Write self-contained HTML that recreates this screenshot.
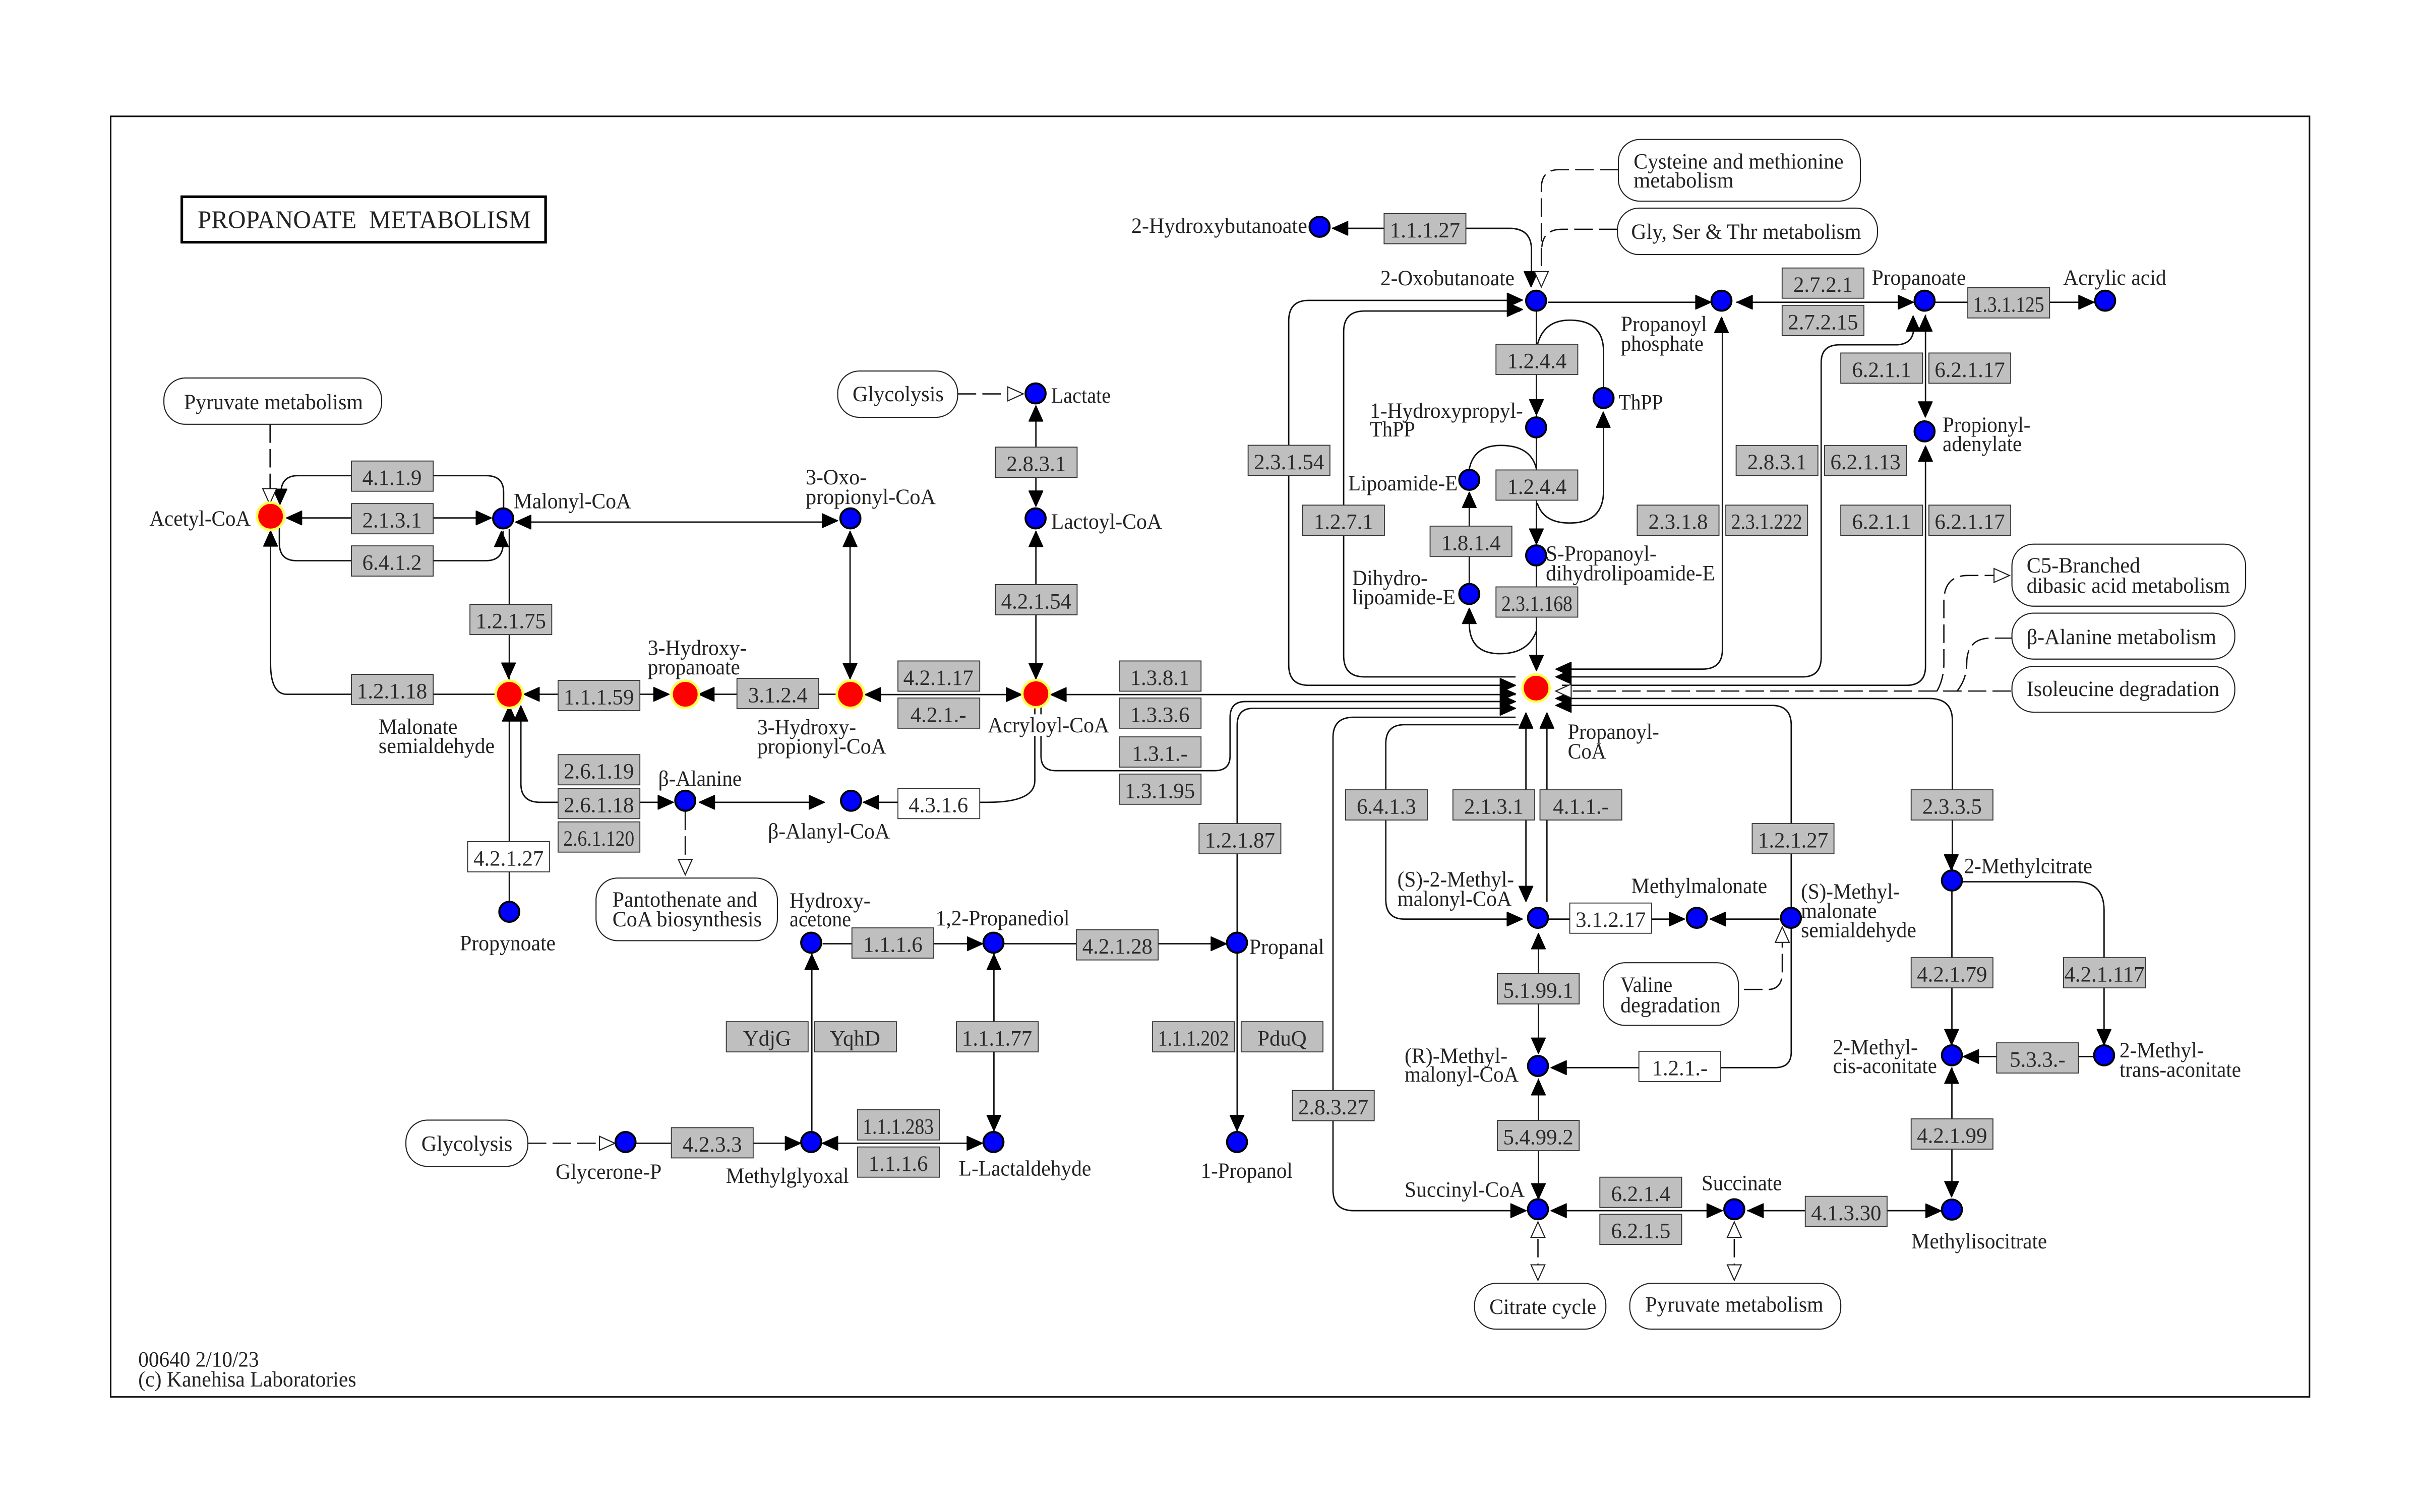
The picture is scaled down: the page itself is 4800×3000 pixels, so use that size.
<!DOCTYPE html>
<html><head><meta charset="utf-8"><title>Propanoate metabolism</title>
<style>
html,body{margin:0;padding:0;background:#fff}
svg{display:block}
text{font-family:"Liberation Serif",serif;font-size:14px;fill:#222}
.m text{text-anchor:middle;fill:#2a2a2a}
.l{fill:none;stroke:#111;stroke-width:.9}
.d{fill:none;stroke:#111;stroke-width:.85;stroke-dasharray:12 4}
.p{fill:#fff;stroke:#222;stroke-width:.7}
.e rect{fill:#bfbfbf;stroke:#333;stroke-width:.6;width:53px;height:19.6px}
.w rect{fill:#fff;stroke:#333;stroke-width:.6;width:53px;height:19.6px}
.b circle{fill:#00f;stroke:#000;stroke-width:1.3}
.r circle{fill:#f00;stroke:#ffff50;stroke-width:1.6}
</style></head><body>
<svg xmlns="http://www.w3.org/2000/svg" width="4800" height="3000" viewBox="0 0 1568 980">
<rect width="1568" height="980" fill="#fff"/>
<rect x="71.7" y="75.4" width="1424.7" height="830" fill="none" stroke="#111" stroke-width="1"/>
<rect x="117.8" y="127.5" width="235.7" height="29.5" fill="#fff" stroke="#000" stroke-width="1.7"/>

<!-- solid connectors -->
<path class="l" d="M182 320Q182 308.3 193 308.3H315Q326.3 308.3 326.3 319V330
M181 342V352Q181 363.4 192 363.4H315Q326 363.4 326 352V344
M186 335.7H316M336 338.4H541
M175.3 344V430Q175.3 450 186 450H322
M330 343V442M339 450H432M452 450H542M560 450.2H662M680 450.2H982
M337.5 458V508Q337.5 520 350 520H435M330 458V584
M453 520H534M559 520H640Q670.5 520 670.5 506V458
M674.5 458V490Q674.5 499.5 684 499.5H787Q797 499.5 797 490V465Q797 454.7 807 454.7H982
M801.6 733V470Q801.6 459.1 812 459.1H982
M550.8 344V440M671.2 263V328M671.2 344V440
M533 611.7H636M650 611.7H794M526 618V733M644 618V733
M412 741H518M532 741H636
M863 148H978Q992.3 148 992.3 162V180
M982 444.2H848Q835 444.2 835 431V208Q835 194.7 848 194.7H985
M982 438.7H884Q870.6 438.7 870.6 425V215Q870.6 201.6 884 201.6H985
M982 464.9H877Q863.7 464.9 863.7 478V771Q863.7 784.7 877 784.7H988
M984 469.7H910Q897.9 469.7 897.9 482V583Q897.9 595.7 910 595.7H986
M995.5 202V434
M996 224Q1000 207.5 1017 207.5Q1039 207.5 1039 228V252
M996 326Q1000 339 1017 339Q1039 339 1039 318V268
M952 304Q955 288.7 972.4 288.7Q992 288.7 995.5 304
M952 319V378
M995.5 409Q990 423.7 972 423.7Q952 423.7 952 404
M1003 195.9H1108M1125 195.9H1239M1254 195.9H1356
M1116 206V421Q1116 433.7 1103 433.7H1010
M1010 438.7H1168Q1180 438.7 1180 426V235Q1180 223.5 1192 223.5H1228Q1240 223.5 1240 212
M1247.6 204V270M1247.6 290V432Q1247.6 444.2 1235 444.2H1012
M1012 452.7H1250Q1265 452.7 1265 467V564
M1012 457.2H1148Q1160.6 457.2 1160.6 470V588
M1160.6 600V682Q1160.6 692 1150 692H1006
M988.7 462V584M1002.3 462V584.5
M1003 595.7H1091M1108 595.7H1153
M996.8 605V682M996.8 699V777
M1005 784.7H1116M1132 784.7H1257
M1264.7 577V677M1264.7 692V775
M1271 571.5H1345Q1363.3 571.5 1363.3 590V677
M1356 684.8H1272"/>

<!-- dashed connectors -->
<path class="d" d="M175 275V318M1048.6 110H1010Q998.7 110 998.7 122V177M1048 148.6H1012Q1000 148.6 999 160
M620.5 255.3H653M342 741H388M444 526V557
M1303 447.9H1018M1255 448Q1259.5 440 1259.5 430V390Q1259.5 373 1275 373H1292
M1268 448Q1274.3 440 1274.3 430Q1274.3 413.6 1290 413.6H1304
M1130 641.3H1146Q1154.8 641 1154.8 630V611
M996.5 803V820M1123.7 803V820"/>

<!-- filled arrowheads -->
<path fill="#000" stroke="#000" stroke-width=".6" stroke-linejoin="round" d="M318.5 335.7l-10-4.5v9zM542.8 337.5l-10-4.5v9zM433.6 450l-10-4.5v9zM662 450.2l-10-4.5v9zM436.4 520l-10-4.5v9zM534.3 520l-10-4.5v9zM636.8 611.7l-10-4.5v9zM794.7 611.7l-10-4.5v9zM518.8 741l-10-4.5v9zM636.6 741l-10-4.5v9zM986.6 194.5l-10-4.5v9zM986.6 200.6l-10-4.5v9zM1108.7 195.9l-10-4.5v9zM1239.9 195.9l-10-4.5v9zM1356.9 195.9l-10-4.5v9zM982 444.2l-10-4.5v9zM982 449.7l-10-4.5v9zM982 454.7l-10-4.5v9zM982 459.1l-10-4.5v9zM986.5 595.7l-10-4.5v9zM1091.6 595.7l-10-4.5v9zM988.9 784.7l-10-4.5v9zM1116 784.7l-10-4.5v9zM1257.8 784.8l-10-4.5v9z
M185.5 335.7l10-4.5v9zM334 338.4l10-4.5v9zM339.4 450l10-4.5v9zM452.7 450l10-4.5v9zM560.5 450.2l10-4.5v9zM680.8 450.2l10-4.5v9zM453 520l10-4.5v9zM559.3 520l10-4.5v9zM532.8 741l10-4.5v9zM863.3 148l10-4.5v9zM1125.4 195.9l10-4.5v9zM1008 433.7l10-4.5v9zM1008 438.7l10-4.5v9zM1008 452.7l10-4.5v9zM1008 457.2l10-4.5v9zM1108 595.7l10-4.5v9zM1004.9 692l10-4.5v9zM1004.9 784.7l10-4.5v9zM1132.5 784.7l10-4.5v9zM1272 684.8l10-4.5v9z
M181.4 327l-4.5-10h9zM329.5 439.7l-4.5-10h9zM550.8 440l-4.5-10h9zM671.2 328.2l-4.5-10h9zM671.2 440l-4.5-10h9zM644 732.9l-4.5-10h9zM801.5 732.9l-4.5-10h9zM992 186l-4.5-10h9zM995.5 269l-4.5-10h9zM995.5 352.8l-4.5-10h9zM995.5 434.7l-4.5-10h9zM1247.5 270.4l-4.5-10h9zM1264.3 564l-4.5-10h9zM1264.5 677.2l-4.5-10h9zM1264.5 775.8l-4.5-10h9zM1363.3 677.2l-4.5-10h9zM988.7 584.4l-4.5-10h9zM996.8 682.8l-4.5-10h9zM996.8 777.2l-4.5-10h9z
M175.3 344l-4.5 10h9zM324.9 344.3l-4.5 10h9zM330 457.4l-4.5 10h9zM337.5 457.4l-4.5 10h9zM550.8 344.3l-4.5 10h9zM671.2 263l-4.5 10h9zM671.2 344.3l-4.5 10h9zM526 618.5l-4.5 10h9zM644 618.5l-4.5 10h9zM952 319l-4.5 10h9zM952 394.2l-4.5 10h9zM1038.8 267l-4.5 10h9zM1115.4 205.6l-4.5 10h9zM1239.6 204.7l-4.5 10h9zM1247.4 204.7l-4.5 10h9zM1247.6 289l-4.5 10h9zM988.7 462l-4.5 10h9zM1002.3 462l-4.5 10h9zM996.8 605l-4.5 10h9zM996.8 699.7l-4.5 10h9zM1264.5 692.2l-4.5 10h9z"/>

<!-- hollow arrowheads -->
<path fill="#fff" stroke="#222" stroke-width=".7" d="M174.7 326.7l-4.5-10h9zM998.7 186l-4.5-10h9zM444 567l-4.5-10h9zM996.5 829.8l-4.5-10h9zM1123.7 829.8l-4.5-10h9z
M663 255.3l-10-4.5v9zM398.4 741l-10-4.5v9zM1302 373l-10-4.5v9z
M1008 447.9l10-4.5v9z
M996.5 792l-4.5 10h9zM1123.7 792l-4.5 10h9zM1154.8 600.8l-4.5 10h9z"/>

<!-- pathway boxes -->
<g class="p">
<rect x="106.2" y="245" width="141.1" height="30" rx="14"/>
<rect x="542.8" y="240.5" width="77.7" height="30" rx="14"/>
<rect x="263" y="726" width="79" height="30" rx="14"/>
<rect x="386.2" y="569.1" width="117.5" height="40.6" rx="14"/>
<rect x="1048.6" y="90.4" width="156.8" height="40" rx="14"/>
<rect x="1048" y="134.9" width="168.5" height="30.1" rx="14"/>
<rect x="1303.6" y="352.7" width="151.4" height="40.2" rx="14"/>
<rect x="1303.6" y="397.4" width="144.4" height="29.8" rx="14"/>
<rect x="1303.6" y="431.9" width="144.4" height="29.7" rx="14"/>
<rect x="1039" y="624" width="87.4" height="40.6" rx="14"/>
<rect x="955.4" y="831.8" width="85.1" height="29.7" rx="14"/>
<rect x="1056" y="831.8" width="136.7" height="29.7" rx="14"/>
</g>

<!-- enzyme boxes -->
<g class="e">
<rect x="227.7" y="298.8"/><rect x="227.7" y="326.4"/><rect x="227.7" y="353.8"/>
<rect x="304.5" y="391.7"/><rect x="227.7" y="437.1"/><rect x="361.6" y="441"/>
<rect x="477.5" y="439.7"/><rect x="361.6" y="489.1"/><rect x="361.6" y="511"/><rect x="361.6" y="532.7"/>
<rect x="581.8" y="428.4"/><rect x="581.8" y="452.4"/>
<rect x="725.2" y="428.4"/><rect x="725.2" y="452.4"/><rect x="725.2" y="477.6"/><rect x="725.2" y="501.7"/>
<rect x="776.9" y="533.8"/><rect x="552" y="601.4"/><rect x="697.4" y="602.6"/>
<rect x="470.6" y="662.2"/><rect x="527.8" y="662.2"/><rect x="619.7" y="662.2"/><rect x="746.8" y="662.2"/><rect x="804.2" y="662.2"/>
<rect x="435" y="730.9"/><rect x="555.6" y="719.3"/><rect x="555.6" y="743.4"/>
<rect x="644.9" y="289.8"/><rect x="644.9" y="378.9"/><rect x="808.7" y="288.6"/>
<rect x="896.8" y="138.4"/><rect x="969.3" y="223.1"/><rect x="969.3" y="304.6"/>
<rect x="844" y="327.4"/><rect x="926.6" y="341"/><rect x="969.3" y="380.4"/>
<rect x="1060.8" y="327.4"/><rect x="1118.2" y="327.4"/><rect x="1124.9" y="288.7"/><rect x="1182.2" y="288.7"/>
<rect x="1192.7" y="228.8"/><rect x="1192.7" y="327.4"/><rect x="1249.8" y="228.8"/><rect x="1249.8" y="327.4"/>
<rect x="1154.7" y="173.7"/><rect x="1154.7" y="197.9"/><rect x="1275" y="186.5"/>
<rect x="871.8" y="511.9"/><rect x="941.4" y="511.9"/><rect x="997.8" y="511.9"/><rect x="1135.3" y="533.8"/>
<rect x="970.2" y="631.1"/><rect x="837.4" y="706.8"/><rect x="970.2" y="726.2"/>
<rect x="1036.6" y="763"/><rect x="1036.6" y="787"/><rect x="1169.7" y="775.4"/>
<rect x="1238.3" y="511.9"/><rect x="1238.3" y="620.7"/><rect x="1337" y="620.7"/><rect x="1293.7" y="675.9"/><rect x="1238.3" y="725.2"/>
</g>
<g class="w">
<rect x="581.8" y="511"/><rect x="303" y="545.5"/><rect x="1017.1" y="585.3"/><rect x="1061.9" y="681.4"/>
</g>

<!-- enzyme labels -->
<g class="m">
<text x="254" y="314.3">4.1.1.9</text><text x="254" y="341.9">2.1.3.1</text><text x="254" y="369.3">6.4.1.2</text>
<text x="331" y="407.2">1.2.1.75</text><text x="254" y="452.6">1.2.1.18</text><text x="388" y="456.5">1.1.1.59</text>
<text x="504" y="455.2">3.1.2.4</text><text x="388" y="504.6">2.6.1.19</text><text x="388" y="526.5">2.6.1.18</text><text x="388" y="548.2" textLength="46" lengthAdjust="spacingAndGlyphs">2.6.1.120</text>
<text x="608" y="443.9">4.2.1.17</text><text x="608" y="467.9">4.2.1.-</text>
<text x="751.5" y="443.9">1.3.8.1</text><text x="751.5" y="467.9">1.3.3.6</text><text x="751.5" y="493.1">1.3.1.-</text><text x="751.5" y="517.2">1.3.1.95</text>
<text x="608" y="526.5">4.3.1.6</text><text x="329.5" y="561">4.2.1.27</text>
<text x="803.4" y="549.3">1.2.1.87</text><text x="578.5" y="616.9">1.1.1.6</text><text x="724" y="618.1">4.2.1.28</text>
<text x="497" y="677.7">YdjG</text><text x="554" y="677.7">YqhD</text><text x="646" y="677.7">1.1.1.77</text><text x="773.3" y="677.7" textLength="46" lengthAdjust="spacingAndGlyphs">1.1.1.202</text><text x="830.7" y="677.7">PduQ</text>
<text x="461.5" y="746.4">4.2.3.3</text><text x="582" y="734.8" textLength="46" lengthAdjust="spacingAndGlyphs">1.1.1.283</text><text x="582" y="758.9">1.1.1.6</text>
<text x="671.4" y="305.3">2.8.3.1</text><text x="671.4" y="394.4">4.2.1.54</text><text x="835.2" y="304.1">2.3.1.54</text>
<text x="923.3" y="153.9">1.1.1.27</text><text x="995.8" y="238.6">1.2.4.4</text><text x="995.8" y="320.1">1.2.4.4</text>
<text x="870.5" y="342.9">1.2.7.1</text><text x="953.1" y="356.5">1.8.1.4</text><text x="995.8" y="395.9" textLength="46" lengthAdjust="spacingAndGlyphs">2.3.1.168</text>
<text x="1087.3" y="342.9">2.3.1.8</text><text x="1144.7" y="342.9" textLength="46" lengthAdjust="spacingAndGlyphs">2.3.1.222</text><text x="1151.4" y="304.2">2.8.3.1</text><text x="1208.7" y="304.2">6.2.1.13</text>
<text x="1219.2" y="244.3">6.2.1.1</text><text x="1219.2" y="342.9">6.2.1.1</text><text x="1276.3" y="244.3">6.2.1.17</text><text x="1276.3" y="342.9">6.2.1.17</text>
<text x="1181.2" y="189.2">2.7.2.1</text><text x="1181.2" y="213.4">2.7.2.15</text><text x="1301.5" y="202" textLength="46" lengthAdjust="spacingAndGlyphs">1.3.1.125</text>
<text x="898.3" y="527.4">6.4.1.3</text><text x="967.9" y="527.4">2.1.3.1</text><text x="1024.3" y="527.4">4.1.1.-</text><text x="1161.8" y="549.3">1.2.1.27</text>
<text x="1043.6" y="600.8">3.1.2.17</text><text x="996.7" y="646.6">5.1.99.1</text><text x="1088.4" y="696.9">1.2.1.-</text>
<text x="863.9" y="722.3">2.8.3.27</text><text x="996.7" y="741.7">5.4.99.2</text>
<text x="1063.1" y="778.5">6.2.1.4</text><text x="1063.1" y="802.5">6.2.1.5</text><text x="1196.2" y="790.9">4.1.3.30</text>
<text x="1264.8" y="527.4">2.3.3.5</text><text x="1264.8" y="636.2">4.2.1.79</text><text x="1363.5" y="636.2">4.2.1.117</text><text x="1320.2" y="691.4">5.3.3.-</text><text x="1264.8" y="740.7">4.2.1.99</text>
</g>

<!-- nodes -->
<g class="b">
<circle cx="326" cy="336" r="6.5"/><circle cx="551" cy="336" r="6.5"/><circle cx="671" cy="255" r="6.5"/><circle cx="671" cy="336" r="6.5"/>
<circle cx="444" cy="519" r="6.5"/><circle cx="551.4" cy="519" r="6.5"/><circle cx="525.6" cy="611" r="6.5"/><circle cx="643.7" cy="611" r="6.5"/><circle cx="801.5" cy="611" r="6.5"/>
<circle cx="405.3" cy="740.2" r="6.5"/><circle cx="525.6" cy="740.2" r="6.5"/><circle cx="643.7" cy="740.2" r="6.5"/><circle cx="801.5" cy="740.2" r="6.5"/><circle cx="330" cy="591" r="6.5"/>
<circle cx="855" cy="147" r="6.5"/><circle cx="995.3" cy="194.9" r="6.5"/><circle cx="1115.4" cy="194.9" r="6.5"/><circle cx="1247" cy="194.9" r="6.5"/><circle cx="1364" cy="194.9" r="6.5"/>
<circle cx="1039" cy="258" r="6.5"/><circle cx="995.3" cy="277" r="6.5"/><circle cx="1247" cy="279.6" r="6.5"/><circle cx="952" cy="311" r="6.5"/><circle cx="995.3" cy="360" r="6.5"/><circle cx="952" cy="385" r="6.5"/>
<circle cx="996.5" cy="594.9" r="6.5"/><circle cx="1099.4" cy="594.9" r="6.5"/><circle cx="1160.4" cy="594.9" r="6.5"/><circle cx="996.5" cy="690.9" r="6.5"/><circle cx="996.5" cy="783.8" r="6.5"/><circle cx="1123.7" cy="783.8" r="6.5"/>
<circle cx="1264.7" cy="570.7" r="6.5"/><circle cx="1264.7" cy="684" r="6.5"/><circle cx="1363.3" cy="684" r="6.5"/><circle cx="1264.7" cy="784" r="6.5"/>
</g>
<g class="r">
<circle cx="175.3" cy="334.6" r="8.8"/><circle cx="330" cy="450" r="8.8"/><circle cx="444" cy="450" r="8.8"/><circle cx="551" cy="450" r="8.8"/><circle cx="671.2" cy="449.6" r="8.8"/><circle cx="995.3" cy="446" r="8.8"/>
</g>

<rect x="638" y="463" width="82" height="14" fill="#fff"/>

<!-- labels -->
<g lengthAdjust="spacingAndGlyphs">
<text x="128" y="148" style="font-size:16.5px" textLength="216" lengthAdjust="spacingAndGlyphs" xml:space="preserve">PROPANOATE  METABOLISM</text>
<text x="119.2" y="265.2" textLength="116" lengthAdjust="spacingAndGlyphs">Pyruvate metabolism</text>
<text x="96.8" y="340.7" textLength="65.6" lengthAdjust="spacingAndGlyphs">Acetyl-CoA</text>
<text x="332.8" y="329.4" textLength="76.2" lengthAdjust="spacingAndGlyphs">Malonyl-CoA</text>
<text x="419.7" y="424.5" textLength="64.2" lengthAdjust="spacingAndGlyphs">3-Hydroxy-</text>
<text x="419.7" y="437" textLength="59.8" lengthAdjust="spacingAndGlyphs">propanoate</text>
<text x="245.3" y="475.6" textLength="51.1" lengthAdjust="spacingAndGlyphs">Malonate</text>
<text x="245.3" y="488" textLength="75.2" lengthAdjust="spacingAndGlyphs">semialdehyde</text>
<text x="490.6" y="475.9" textLength="64.1" lengthAdjust="spacingAndGlyphs">3-Hydroxy-</text>
<text x="490.6" y="488.4" textLength="83.7" lengthAdjust="spacingAndGlyphs">propionyl-CoA</text>
<text x="640" y="474.7" textLength="78.7" lengthAdjust="spacingAndGlyphs">Acryloyl-CoA</text>
<text x="426.5" y="509.2" textLength="54.1" lengthAdjust="spacingAndGlyphs">β-Alanine</text>
<text x="497.5" y="543.4" textLength="79.1" lengthAdjust="spacingAndGlyphs">β-Alanyl-CoA</text>
<text x="522" y="314" textLength="39.6" lengthAdjust="spacingAndGlyphs">3-Oxo-</text>
<text x="522" y="326.6" textLength="84.3" lengthAdjust="spacingAndGlyphs">propionyl-CoA</text>
<text x="681" y="261" textLength="38.7" lengthAdjust="spacingAndGlyphs">Lactate</text>
<text x="681" y="342.6" textLength="72" lengthAdjust="spacingAndGlyphs">Lactoyl-CoA</text>
<text x="552.4" y="260" textLength="59.1" lengthAdjust="spacingAndGlyphs">Glycolysis</text>
<text x="396.8" y="587.7" textLength="93.8" lengthAdjust="spacingAndGlyphs">Pantothenate and</text>
<text x="396.8" y="600.4" textLength="96.8" lengthAdjust="spacingAndGlyphs">CoA biosynthesis</text>
<text x="511.6" y="588.3" textLength="52.4" lengthAdjust="spacingAndGlyphs">Hydroxy-</text>
<text x="511.6" y="600.4" textLength="39.8" lengthAdjust="spacingAndGlyphs">acetone</text>
<text x="606.2" y="599.7" textLength="86.8" lengthAdjust="spacingAndGlyphs">1,2-Propanediol</text>
<text x="809.4" y="618.4" textLength="48.6" lengthAdjust="spacingAndGlyphs">Propanal</text>
<text x="360" y="764" textLength="68.7" lengthAdjust="spacingAndGlyphs">Glycerone-P</text>
<text x="470.3" y="766.7" textLength="79.7" lengthAdjust="spacingAndGlyphs">Methylglyoxal</text>
<text x="621.2" y="762" textLength="85.8" lengthAdjust="spacingAndGlyphs">L-Lactaldehyde</text>
<text x="778" y="763.4" textLength="59.5" lengthAdjust="spacingAndGlyphs">1-Propanol</text>
<text x="298" y="616" textLength="62" lengthAdjust="spacingAndGlyphs">Propynoate</text>
<text x="273" y="746" textLength="59" lengthAdjust="spacingAndGlyphs">Glycolysis</text>
<text x="89.6" y="885.8" textLength="78.2" lengthAdjust="spacingAndGlyphs">00640 2/10/23</text>
<text x="89.6" y="898.6" textLength="141.2" lengthAdjust="spacingAndGlyphs">(c) Kanehisa Laboratories</text>
<text x="733" y="151" textLength="114" lengthAdjust="spacingAndGlyphs">2-Hydroxybutanoate</text>
<text x="1058.5" y="109.2" textLength="136" lengthAdjust="spacingAndGlyphs">Cysteine and methionine</text>
<text x="1058.5" y="121.6" textLength="64.8" lengthAdjust="spacingAndGlyphs">metabolism</text>
<text x="1056.9" y="154.9" textLength="149" lengthAdjust="spacingAndGlyphs">Gly, Ser &amp; Thr metabolism</text>
<text x="894.4" y="184.9" textLength="86.9" lengthAdjust="spacingAndGlyphs">2-Oxobutanoate</text>
<text x="1050.2" y="214.6" textLength="55.8" lengthAdjust="spacingAndGlyphs">Propanoyl</text>
<text x="1050.2" y="227.4" textLength="53.6" lengthAdjust="spacingAndGlyphs">phosphate</text>
<text x="887.6" y="270.8" textLength="99.2" lengthAdjust="spacingAndGlyphs">1-Hydroxypropyl-</text>
<text x="887.6" y="282.9" textLength="29.3" lengthAdjust="spacingAndGlyphs">ThPP</text>
<text x="1048.8" y="265.4" textLength="28.7" lengthAdjust="spacingAndGlyphs">ThPP</text>
<text x="873.5" y="317.9" textLength="71" lengthAdjust="spacingAndGlyphs">Lipoamide-E</text>
<text x="1001.6" y="363.4" textLength="71.7" lengthAdjust="spacingAndGlyphs">S-Propanoyl-</text>
<text x="1001.6" y="376.2" textLength="109.7" lengthAdjust="spacingAndGlyphs">dihydrolipoamide-E</text>
<text x="876.1" y="379.2" textLength="48.9" lengthAdjust="spacingAndGlyphs">Dihydro-</text>
<text x="876.1" y="391.7" textLength="67" lengthAdjust="spacingAndGlyphs">lipoamide-E</text>
<text x="1212.8" y="184.6" textLength="61" lengthAdjust="spacingAndGlyphs">Propanoate</text>
<text x="1336.8" y="184.6" textLength="66.8" lengthAdjust="spacingAndGlyphs">Acrylic acid</text>
<text x="1258.7" y="280" textLength="56.9" lengthAdjust="spacingAndGlyphs">Propionyl-</text>
<text x="1258.7" y="292.4" textLength="51.3" lengthAdjust="spacingAndGlyphs">adenylate</text>
<text x="1313.1" y="371.1" textLength="73.7" lengthAdjust="spacingAndGlyphs">C5-Branched</text>
<text x="1313.1" y="384.2" textLength="131.8" lengthAdjust="spacingAndGlyphs">dibasic acid metabolism</text>
<text x="1313.1" y="417.4" textLength="122.9" lengthAdjust="spacingAndGlyphs">β-Alanine metabolism</text>
<text x="1313.1" y="451.1" textLength="124.9" lengthAdjust="spacingAndGlyphs">Isoleucine degradation</text>
<text x="1015.8" y="478.9" textLength="59.2" lengthAdjust="spacingAndGlyphs">Propanoyl-</text>
<text x="1015.8" y="491.6" textLength="24.9" lengthAdjust="spacingAndGlyphs">CoA</text>
<text x="905.4" y="574.6" textLength="75.6" lengthAdjust="spacingAndGlyphs">(S)-2-Methyl-</text>
<text x="905.4" y="587.2" textLength="74.2" lengthAdjust="spacingAndGlyphs">malonyl-CoA</text>
<text x="1056.9" y="578.8" textLength="88.1" lengthAdjust="spacingAndGlyphs">Methylmalonate</text>
<text x="1166.9" y="582.5" textLength="64.1" lengthAdjust="spacingAndGlyphs">(S)-Methyl-</text>
<text x="1166.9" y="595.1" textLength="49.1" lengthAdjust="spacingAndGlyphs">malonate</text>
<text x="1166.9" y="607.5" textLength="74.7" lengthAdjust="spacingAndGlyphs">semialdehyde</text>
<text x="1049.9" y="642.9" textLength="33.7" lengthAdjust="spacingAndGlyphs">Valine</text>
<text x="1049.9" y="656.1" textLength="65" lengthAdjust="spacingAndGlyphs">degradation</text>
<text x="910.1" y="689" textLength="66.7" lengthAdjust="spacingAndGlyphs">(R)-Methyl-</text>
<text x="910.1" y="701" textLength="73.9" lengthAdjust="spacingAndGlyphs">malonyl-CoA</text>
<text x="910.1" y="775.7" textLength="77.8" lengthAdjust="spacingAndGlyphs">Succinyl-CoA</text>
<text x="1102.5" y="771.5" textLength="52.1" lengthAdjust="spacingAndGlyphs">Succinate</text>
<text x="965" y="851.6" textLength="69.3" lengthAdjust="spacingAndGlyphs">Citrate cycle</text>
<text x="1066" y="850.2" textLength="115.4" lengthAdjust="spacingAndGlyphs">Pyruvate metabolism</text>
<text x="1272.6" y="566" textLength="83.1" lengthAdjust="spacingAndGlyphs">2-Methylcitrate</text>
<text x="1187.6" y="683.4" textLength="55" lengthAdjust="spacingAndGlyphs">2-Methyl-</text>
<text x="1187.6" y="695.4" textLength="67.4" lengthAdjust="spacingAndGlyphs">cis-aconitate</text>
<text x="1373.3" y="685.3" textLength="54.7" lengthAdjust="spacingAndGlyphs">2-Methyl-</text>
<text x="1373.3" y="698" textLength="78.7" lengthAdjust="spacingAndGlyphs">trans-aconitate</text>
<text x="1238.4" y="809.2" textLength="87.9" lengthAdjust="spacingAndGlyphs">Methylisocitrate</text>
</g>
</svg>
</body></html>
